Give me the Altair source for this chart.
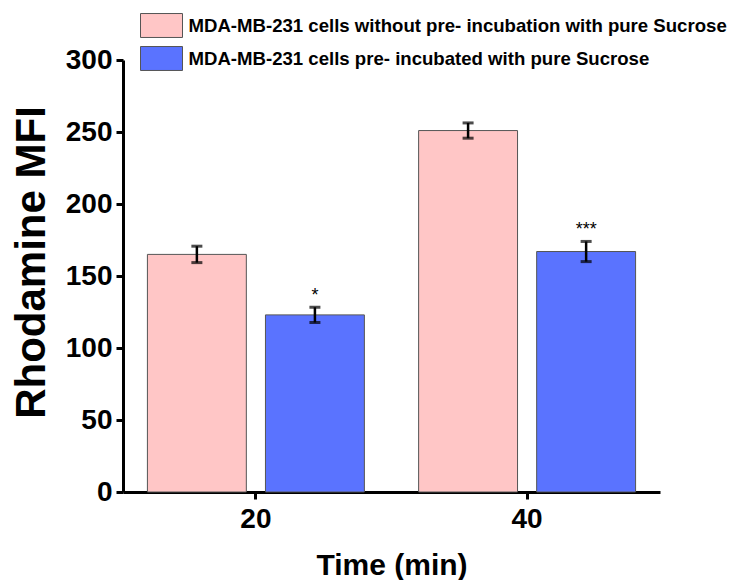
import altair as alt
import pandas as pd

FONT = "Liberation Sans"

times = ["20", "20", "40", "40"]
group_names = [
    "MDA-MB-231 cells without pre- incubation with pure Sucrose",
    "MDA-MB-231 cells pre- incubated with pure Sucrose",
]
groups = [group_names[0], group_names[1], group_names[0], group_names[1]]
means = [165, 123, 251, 167]
errs = [5.7, 5.3, 5.3, 7.0]
stars = ["", "*", "", "***"]
colors = ["#FFC6C6", "#5A73FF"]

df = pd.DataFrame({"time": times, "group": groups, "mean": means, "err": errs, "star": stars})

xenc = alt.X(
    "time:N",
    scale=alt.Scale(paddingInner=0.2, paddingOuter=0.09),
    axis=alt.Axis(
        title="Time (min)", labelAngle=0, labelFont=FONT, labelFontSize=28,
        labelFontWeight="bold", labelColor="black", labelPadding=6,
        titleFont=FONT, titleFontSize=30, titleFontWeight="bold", titleColor="black",
        titlePadding=17, domainColor="black", domainWidth=3, tickColor="black",
        tickWidth=3, tickSize=7,
    ),
)
xoff = alt.XOffset("group:N", scale=alt.Scale(domain=group_names, paddingInner=0.162))

base = alt.Chart(df).transform_calculate(
    lo="datum.mean - datum.err", hi="datum.mean + datum.err"
).encode(x=xenc, xOffset=xoff)

yscale = alt.Scale(domain=[0, 300])

bars = base.mark_bar(stroke="#555555", strokeWidth=1, opacity=1).encode(
    y=alt.Y(
        "mean:Q", scale=yscale,
        axis=alt.Axis(
            title="Rhodamine MFI", values=[0, 50, 100, 150, 200, 250, 300], grid=False,
            labelFont=FONT, labelFontSize=28, labelFontWeight="bold", labelColor="black",
            labelPadding=4, titleFont=FONT, titleFontSize=42, titleFontWeight="bold",
            titleColor="black", titlePadding=12, titleY=202, domainColor="black", domainWidth=3,
            tickColor="black", tickWidth=3, tickSize=7,
        ),
    ),
    color=alt.Color(
        "group:N",
        scale=alt.Scale(domain=group_names, range=colors),
        legend=alt.Legend(
            title=None, orient="none", legendX=27.5, legendY=-45.5, padding=0,
            symbolType="M-2,-1.14L2,-1.14L2,1.14L-2,1.14Z", symbolSize=441,
            symbolStrokeColor="#555555", symbolStrokeWidth=1, symbolOpacity=1,
            labelFont=FONT, labelFontSize=18.6, labelFontWeight="bold", labelColor="black",
            labelLimit=700, rowPadding=5, labelOffset=16,
        ),
    ),
)

rule = base.mark_rule(color="black", strokeWidth=2.5).encode(
    y=alt.Y("lo:Q", scale=yscale), y2="hi:Q"
)
cap_hi = base.mark_tick(color="black", size=11, thickness=3).encode(y=alt.Y("hi:Q", scale=yscale))
cap_lo = base.mark_tick(color="black", size=11, thickness=3).encode(y=alt.Y("lo:Q", scale=yscale))
star_text = base.mark_text(font=FONT, fontSize=18, color="black", baseline="alphabetic", dy=-6).encode(
    y=alt.Y("hi:Q", scale=yscale), text="star:N"
)

chart = alt.layer(bars, rule, cap_hi, cap_lo, star_text).properties(
    width=537, height=432,
    background="white",
    autosize=alt.AutoSizeParams(type="none"),
    padding={"left": 123, "top": 60, "right": 72, "bottom": 88},
).configure_view(stroke=None)

chart.save("out.html", embed_options={"renderer": "svg", "actions": False})
